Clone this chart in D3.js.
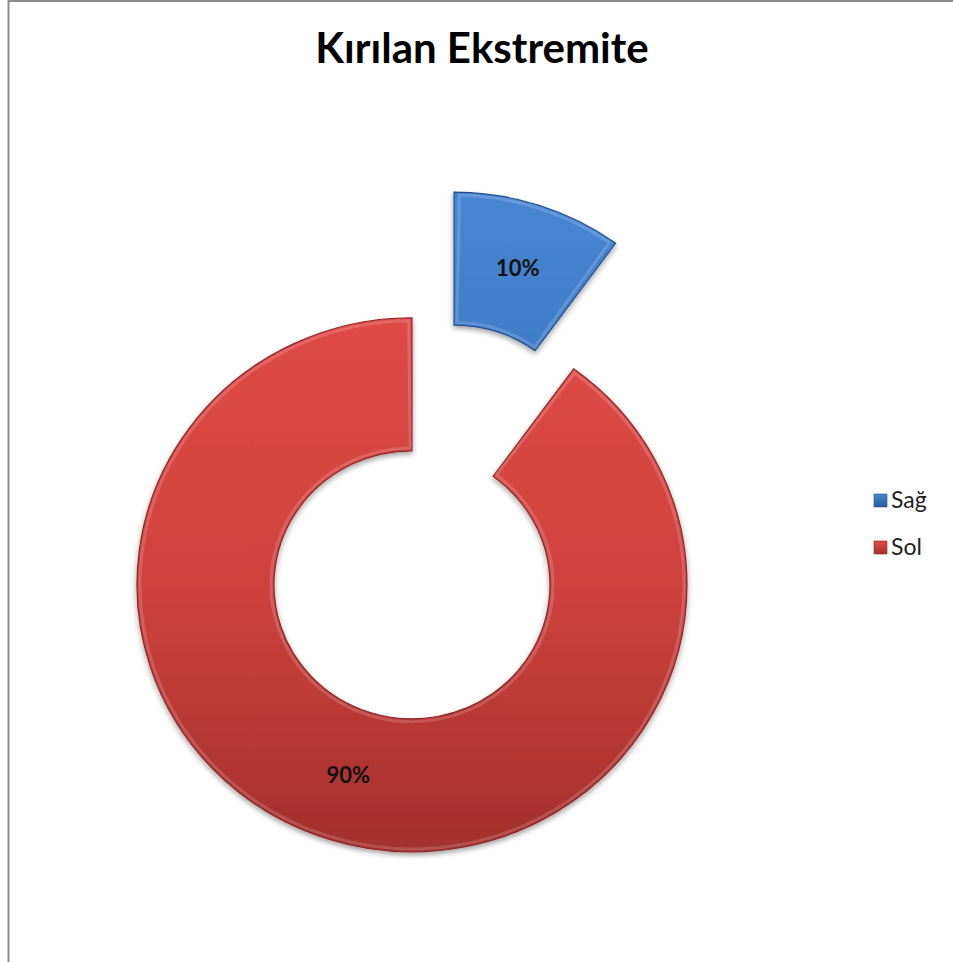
<!DOCTYPE html>
<html>
<head>
<meta charset="utf-8">
<script src="https://cdn.jsdelivr.net/npm/d3@7/dist/d3.min.js"></script>
<style>
  html, body { margin: 0; padding: 0; background: #fff; }
  svg { display: block; }
</style>
</head>
<body>
<svg id="chart" width="953" height="962"></svg>
<script>
// ---- data ----
const title = "Kırılan Ekstremite";
const categories = ["Sağ", "Sol"];
const values = [10, 90];

// ---- layout / style ----
const W = 953, H = 962;
const cx = 433, cy = 522;          // doughnut centre (before explosion)
const outerR = 275, innerR = 138;
const explode = 68;                // explosion distance
const yScale = 0.971;              // slight vertical squash seen in the reference
const palette = {
  "Sağ": { top: "#4886d2", mid: "#3b76c2", bottom: "#2b5c9f", stroke: "#24508c" },
  "Sol": { top: "#df4b47", mid: "#cf423e", bottom: "#a3302d", stroke: "#8e2826" }
};

const svg = d3.select("#chart");
const defs = svg.append("defs");

// frame of the chart area (left and top edges visible)
svg.append("rect")
  .attr("x", 8.5).attr("y", 1).attr("width", 1200).attr("height", 1200)
  .attr("fill", "none").attr("stroke", "#8c8c8c").attr("stroke-width", 2);

// gradients
categories.forEach((c, i) => {
  const g = defs.append("linearGradient")
    .attr("id", "grad" + i)
    .attr("gradientUnits", "userSpaceOnUse")
    .attr("x1", 0).attr("x2", 0)
    .attr("y1", -outerR).attr("y2", outerR);
  g.append("stop").attr("offset", "0%").attr("stop-color", palette[c].top);
  g.append("stop").attr("offset", "50%").attr("stop-color", palette[c].mid);
  g.append("stop").attr("offset", "100%").attr("stop-color", palette[c].bottom);
  const lg = defs.append("linearGradient")
    .attr("id", "lgrad" + i)
    .attr("x1", 0).attr("x2", 0).attr("y1", 0).attr("y2", 1);
  lg.append("stop").attr("offset", "0%").attr("stop-color", palette[c].top);
  lg.append("stop").attr("offset", "100%").attr("stop-color", palette[c].bottom);
});

// soft shadow
const f = defs.append("filter").attr("id", "shadow")
  .attr("x", "-10%").attr("y", "-10%").attr("width", "120%").attr("height", "125%");
f.append("feGaussianBlur").attr("in", "SourceAlpha").attr("stdDeviation", 3).attr("result", "blur");
f.append("feOffset").attr("in", "blur").attr("dx", 0).attr("dy", 3).attr("result", "off");
f.append("feComponentTransfer").attr("in", "off").attr("result", "shadowA")
  .append("feFuncA").attr("type", "linear").attr("slope", 0.35);
const fm = f.append("feMerge");
fm.append("feMergeNode").attr("in", "shadowA");
fm.append("feMergeNode").attr("in", "SourceGraphic");

// title
svg.append("text")
  .attr("x", 482).attr("y", 63)
  .attr("text-anchor", "middle")
  .attr("font-family", "Lato, 'Open Sans', sans-serif")
  .attr("font-weight", "bold")
  .attr("font-size", 42)
  .attr("fill", "#000")
  .text(title);

// pie
const data = categories.map((c, i) => ({ cat: c, value: values[i], idx: i }));
const total = d3.sum(values);
const pie = d3.pie().sort(null).value(d => d.value).startAngle(0).endAngle(2 * Math.PI);
const arcs = pie(data);
const arc = d3.arc().innerRadius(innerR).outerRadius(outerR);
const bevel = d3.arc().innerRadius(innerR + 3).outerRadius(outerR - 3);

const root = svg.append("g").attr("transform", `translate(${cx},${cy})`);

arcs.forEach(a => {
  const mid = (a.startAngle + a.endAngle) / 2;
  const ox = Math.sin(mid) * explode;
  const oy = -Math.cos(mid) * explode * yScale;
  const g = root.append("g")
    .attr("transform", `translate(${ox},${oy}) scale(1,${yScale})`);
  g.append("path")
    .attr("d", arc(a))
    .attr("fill", `url(#grad${a.data.idx})`)
    .attr("stroke", palette[a.data.cat].stroke)
    .attr("stroke-width", 1.2)
    .attr("filter", "url(#shadow)");
  // inner highlight to suggest bevel
  const inset = a.data.cat === "Sol" ? 0.012 : 0.02;
  g.append("path")
    .attr("d", bevel({ ...a, startAngle: a.startAngle + inset, endAngle: a.endAngle - inset }))
    .attr("fill", "none")
    .attr("stroke", "rgba(255,255,255,0.16)")
    .attr("stroke-width", 3);

  // label
  const c = arc.centroid(a);
  root.append("text")
    .attr("x", c[0] + ox)
    .attr("y", c[1] * yScale + oy)
    .attr("dy", "0.35em")
    .attr("text-anchor", "middle")
    .attr("font-family", "Lato, 'Open Sans', sans-serif")
    .attr("font-weight", "bold")
    .attr("font-size", 22)
    .attr("fill", "#111")
    .text(d3.format(".0%")(a.data.value / total));
});

// legend
const legend = svg.append("g").attr("transform", "translate(874,490)");
categories.forEach((c, i) => {
  const row = legend.append("g").attr("transform", `translate(0,${i * 47})`);
  row.append("rect")
    .attr("x", 0).attr("y", 4).attr("width", 13).attr("height", 13)
    .attr("fill", `url(#lgrad${i})`)
    .attr("stroke", palette[c].stroke).attr("stroke-width", 0.6);
  row.append("text")
    .attr("x", 17).attr("y", 18)
    .attr("font-family", "Lato, 'Open Sans', sans-serif")
    .attr("font-size", 23)
    .attr("fill", "#222")
    .text(c);
});
</script>
</body>
</html>
